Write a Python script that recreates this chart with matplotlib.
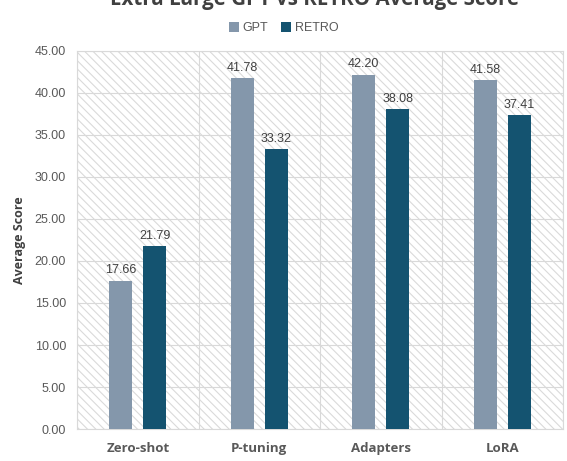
import matplotlib.pyplot as plt
import numpy as np
from matplotlib.patches import Rectangle

# data
methods = ['Zero-shot', 'P-tuning', 'Adapters', 'LoRA']
gpt_scores = [17.66, 41.78, 42.20, 41.58]
retro_scores = [21.79, 33.32, 38.08, 37.41]
series_names = ['GPT', 'RETRO']
colors = ['#8497AB', '#145370']

plt.rcParams['font.family'] = ['Liberation Sans', 'DejaVu Sans']
plt.rcParams['hatch.linewidth'] = 0.8

fig = plt.figure(figsize=(5.67, 4.61), dpi=100)
ax = fig.add_axes([0.136, 0.0694, 0.857, 0.82])

x = np.arange(len(methods))
bar_width = 0.19
offset = 0.14

# hatched background
bg = Rectangle((0, 0), 1, 1, transform=ax.transAxes, facecolor='white',
               edgecolor='#DADADA', linewidth=0, hatch='\\\\\\\\', zorder=0)
ax.add_patch(bg)

for vals, name, col, sign in zip([gpt_scores, retro_scores], series_names, colors, [-1, 1]):
    bars = ax.bar(x + sign * offset, vals, width=bar_width, color=col, label=name, zorder=3)
    for b, v in zip(bars, vals):
        ax.annotate(f'{v:.2f}', (b.get_x() + b.get_width() / 2, v),
                    xytext=(0, 3), textcoords='offset points',
                    ha='center', va='bottom', fontsize=9, color='#404040', zorder=4)

ax.set_xlim(-0.5, len(methods) - 0.5)
ax.set_ylim(0, 45)
ax.set_yticks(np.arange(0, 46, 5))
ax.set_yticklabels([f'{t:.2f}' for t in np.arange(0, 46, 5)], fontsize=9, color='#595959')
ax.set_xticks(x)
ax.set_xticklabels(methods, fontsize=9.5, fontweight='bold', color='#595959',
                   family=['Open Sans', 'DejaVu Sans'])
ax.set_xticks(np.arange(-0.5, len(methods), 1), minor=True)
ax.tick_params(axis='both', which='both', length=0)
ax.tick_params(axis='x', pad=9)
ax.tick_params(axis='y', pad=8)

ax.grid(axis='y', color='#D9D9D9', linewidth=0.8, zorder=1)
ax.grid(axis='x', which='minor', color='#D9D9D9', linewidth=0.8, zorder=1)
ax.grid(axis='x', which='major', visible=False)
for s in ax.spines.values():
    s.set_color('#D9D9D9')
    s.set_linewidth(0.8)

ax.set_ylabel('Average Score', fontsize=9, fontweight='bold', color='#404040',
              family=['Open Sans', 'DejaVu Sans'], labelpad=6)

# title sits mostly above the top edge, as in the reference
fig.text(0.554, 0.989, 'Extra Large GPT vs RETRO Average Score', ha='center', va='baseline',
         fontsize=14.8, fontweight='bold', color='#404040', family=['Open Sans', 'DejaVu Sans'])

fig.legend(loc='center', bbox_to_anchor=(0.5, 0.939), ncol=2, frameon=False, fontsize=9,
           handlelength=0.8, handleheight=0.8, handletextpad=0.3, columnspacing=1.0,
           labelcolor='#595959')

fig.savefig('out.png', dpi=100)
